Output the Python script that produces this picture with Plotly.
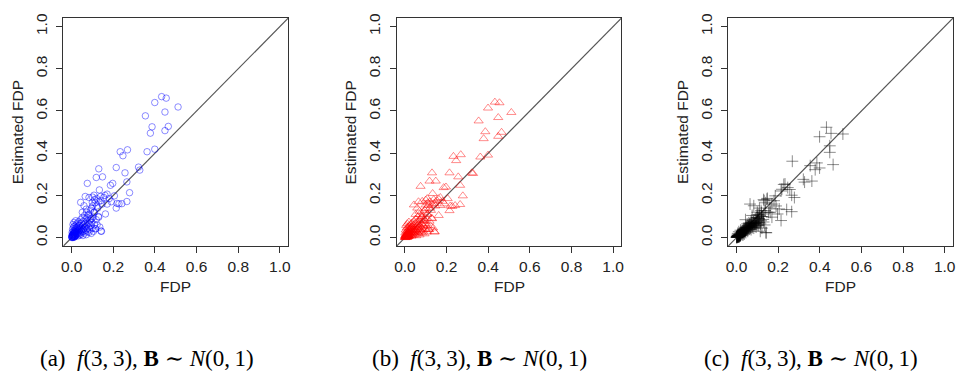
import plotly.graph_objects as go

# ---------------- data ----------------
# shared true FDP values (x) and the estimated FDP for each of the three panels
fdp = [
    # outliers
    0.432, 0.454, 0.399, 0.511, 0.448, 0.354, 0.386, 0.464, 0.378, 0.448,
    0.399, 0.362, 0.233, 0.268, 0.246, 0.321, 0.327,
    # middle band
    0.065, 0.083, 0.107, 0.170, 0.205, 0.154, 0.043, 0.059, 0.099, 0.146,
    0.170, 0.218, 0.241, 0.265, 0.214, 0.162, 0.051, 0.083, 0.107, 0.130,
    0.090, 0.133, 0.278, 0.186, 0.197, 0.075, 0.130, 0.148, 0.118, 0.256,
    0.265, 0.214, 0.227, 0.110, 0.180, 0.140, 0.120, 0.095, 0.190, 0.160,
    0.070, 0.100,
    # dense cluster near the origin
    0.000, 0.001, 0.002, 0.003, 0.004, 0.005, 0.006, 0.007, 0.008, 0.009,
    0.010, 0.011, 0.012, 0.013, 0.014, 0.015, 0.016, 0.017, 0.018, 0.019,
    0.020, 0.021, 0.022, 0.023, 0.024, 0.025, 0.026, 0.027, 0.028, 0.029,
    0.030, 0.031, 0.032, 0.033, 0.034, 0.035, 0.036, 0.037, 0.038, 0.039,
    0.040, 0.042, 0.043, 0.044, 0.045, 0.046, 0.048, 0.049, 0.050, 0.051,
    0.052, 0.054, 0.055, 0.056, 0.058, 0.059, 0.060, 0.062, 0.063, 0.064,
    0.066, 0.067, 0.068, 0.070, 0.071, 0.072, 0.074, 0.075, 0.077, 0.078,
    0.080, 0.082, 0.083, 0.085, 0.087, 0.088, 0.090, 0.092, 0.094, 0.095,
    0.097, 0.099, 0.101, 0.103, 0.105, 0.108, 0.110, 0.112, 0.115, 0.118,
    0.120, 0.122, 0.125, 0.128, 0.131, 0.135, 0.138, 0.141, 0.143, 0.114,
    0.001, 0.003, 0.005, 0.007, 0.009, 0.011, 0.013, 0.015, 0.017, 0.019,
    0.002, 0.004, 0.006, 0.008, 0.010, 0.012, 0.014, 0.016, 0.018, 0.020,
]

est_a = [
    0.668, 0.661, 0.640, 0.619, 0.595, 0.577, 0.525, 0.527, 0.495, 0.507,
    0.419, 0.407, 0.407, 0.416, 0.388, 0.334, 0.320,
    0.195, 0.190, 0.201, 0.206, 0.198, 0.190, 0.167, 0.151, 0.167, 0.159,
    0.159, 0.162, 0.161, 0.171, 0.140, 0.112, 0.120, 0.105, 0.120, 0.097,
    0.089, 0.226, 0.213, 0.248, 0.257, 0.257, 0.326, 0.288, 0.285, 0.307,
    0.264, 0.332, 0.160, 0.180, 0.185, 0.175, 0.150, 0.140, 0.170, 0.200,
    0.135, 0.192,
    0.002, 0.010, 0.025, 0.004, 0.040, 0.015, 0.062, 0.008, 0.030, 0.050,
    0.018, 0.072, 0.005, 0.035, 0.022, 0.055, 0.012, 0.045, 0.028, 0.080,
    0.010, 0.038, 0.060, 0.020, 0.048, 0.032, 0.068, 0.015, 0.042, 0.025,
    0.052, 0.008, 0.036, 0.075, 0.020, 0.058, 0.030, 0.045, 0.012, 0.065,
    0.038, 0.024, 0.085, 0.050, 0.016, 0.034, 0.070, 0.042, 0.028, 0.095,
    0.056, 0.010, 0.040, 0.078, 0.030, 0.062, 0.046, 0.105, 0.022, 0.068,
    0.052, 0.035, 0.088, 0.014, 0.120, 0.060, 0.042, 0.095, 0.030, 0.072,
    0.050, 0.110, 0.025, 0.065, 0.082, 0.040, 0.130, 0.058, 0.020, 0.090,
    0.072, 0.045, 0.150, 0.098, 0.030, 0.120, 0.062, 0.165, 0.042, 0.085,
    0.185, 0.061, 0.140, 0.100, 0.172, 0.050, 0.195, 0.031, 0.030, 0.042,
    0.003, 0.012, 0.006, 0.020, 0.003, 0.014, 0.008, 0.026, 0.006, 0.018,
    0.000, 0.002, 0.010, 0.016, 0.001, 0.022, 0.004, 0.030, 0.010, 0.024,
]

est_b = [
    0.642, 0.639, 0.614, 0.593, 0.569, 0.553, 0.502, 0.499, 0.469, 0.480,
    0.391, 0.382, 0.385, 0.393, 0.365, 0.307, 0.304,
    0.170, 0.172, 0.185, 0.190, 0.185, 0.175, 0.155, 0.140, 0.155, 0.150,
    0.152, 0.150, 0.152, 0.157, 0.128, 0.105, 0.110, 0.098, 0.112, 0.090,
    0.082, 0.209, 0.198, 0.237, 0.240, 0.243, 0.307, 0.268, 0.268, 0.288,
    0.248, 0.307, 0.148, 0.165, 0.172, 0.162, 0.140, 0.130, 0.160, 0.185,
    0.125, 0.178,
    0.001, 0.008, 0.022, 0.003, 0.036, 0.013, 0.058, 0.007, 0.027, 0.046,
    0.016, 0.066, 0.004, 0.032, 0.020, 0.050, 0.011, 0.041, 0.025, 0.074,
    0.009, 0.035, 0.055, 0.018, 0.044, 0.029, 0.062, 0.013, 0.039, 0.023,
    0.048, 0.007, 0.033, 0.069, 0.018, 0.053, 0.027, 0.041, 0.011, 0.060,
    0.035, 0.022, 0.078, 0.046, 0.014, 0.031, 0.064, 0.038, 0.025, 0.088,
    0.051, 0.009, 0.036, 0.072, 0.027, 0.057, 0.042, 0.097, 0.020, 0.062,
    0.048, 0.032, 0.081, 0.013, 0.110, 0.055, 0.038, 0.088, 0.027, 0.066,
    0.046, 0.101, 0.023, 0.060, 0.075, 0.036, 0.120, 0.053, 0.018, 0.083,
    0.066, 0.041, 0.138, 0.090, 0.027, 0.110, 0.057, 0.152, 0.038, 0.078,
    0.170, 0.056, 0.129, 0.092, 0.158, 0.046, 0.180, 0.028, 0.027, 0.039,
    0.003, 0.011, 0.005, 0.018, 0.003, 0.013, 0.007, 0.023, 0.005, 0.016,
    0.000, 0.002, 0.009, 0.014, 0.001, 0.020, 0.004, 0.027, 0.009, 0.022,
]

est_c = [
    0.523, 0.494, 0.478, 0.491, 0.435, 0.341, 0.354, 0.346, 0.322, 0.404,
    0.330, 0.268, 0.254, 0.362, 0.237, 0.276, 0.263,
    0.159, 0.151, 0.110, 0.159, 0.136, 0.120, 0.085, 0.070, 0.108, 0.182,
    0.097, 0.229, 0.133, 0.123, 0.081, 0.120, 0.065, 0.075, 0.090, 0.074,
    0.068, 0.175, 0.190, 0.198, 0.112, 0.105, 0.180, 0.186, 0.128, 0.228,
    0.201, 0.221, 0.252, 0.140, 0.175, 0.165, 0.100, 0.095, 0.150, 0.140,
    0.080, 0.120,
    0.001, 0.004, 0.006, 0.002, 0.012, 0.008, 0.020, 0.005, 0.010, 0.015,
    0.009, 0.028, 0.004, 0.014, 0.012, 0.018, 0.010, 0.022, 0.016, 0.035,
    0.013, 0.020, 0.025, 0.018, 0.024, 0.021, 0.030, 0.015, 0.027, 0.022,
    0.032, 0.012, 0.026, 0.040, 0.020, 0.034, 0.030, 0.036, 0.018, 0.042,
    0.033, 0.028, 0.048, 0.040, 0.024, 0.037, 0.050, 0.044, 0.035, 0.055,
    0.046, 0.030, 0.048, 0.058, 0.042, 0.052, 0.050, 0.066, 0.040, 0.060,
    0.054, 0.046, 0.064, 0.038, 0.072, 0.058, 0.052, 0.068, 0.048, 0.062,
    0.056, 0.078, 0.045, 0.064, 0.070, 0.055, 0.088, 0.066, 0.050, 0.075,
    0.070, 0.060, 0.095, 0.082, 0.058, 0.090, 0.072, 0.105, 0.065, 0.080,
    0.118, 0.045, 0.100, 0.086, 0.112, 0.060, 0.128, 0.024, 0.023, 0.030,
    0.002, 0.006, 0.004, 0.010, 0.004, 0.008, 0.006, 0.012, 0.008, 0.011,
    0.001, 0.002, 0.005, 0.009, 0.003, 0.012, 0.006, 0.014, 0.009, 0.013,
]

tick_vals = [0.0, 0.2, 0.4, 0.6, 0.8, 1.0]
tick_text = ["0.0", "0.2", "0.4", "0.6", "0.8", "1.0"]
axis_range = [-0.04, 1.04]
captions = ["(a)", "(b)", "(c)"]

# ---------------- styling / layout ----------------
W, H = 958, 378
box_left_px = [61.7, 396.7, 730.0]
box_w_px = 226.0
box_top_px, box_bot_px = 13.3, 244.3
caption_left_px = [36, 370, 704]

panels = [
    dict(y=est_a, symbol="circle-open", color="rgba(0,0,255,0.45)", size=6.5),
    dict(y=est_b, symbol="triangle-up-open", color="rgba(255,0,0,0.45)", size=8),
    dict(y=est_c, symbol="cross-thin-open", color="rgba(0,0,0,0.45)", size=8.5),
]

font_family = "Liberation Sans, Arial, sans-serif"
fig = go.Figure()
annotations = []
layout = dict(
    width=W, height=H, margin=dict(l=0, r=0, t=0, b=0),
    paper_bgcolor="white", plot_bgcolor="white", showlegend=False,
    font=dict(family=font_family, size=15.5, color="#222"),
)

ydom = [1 - box_bot_px / H, 1 - box_top_px / H]
for i, p in enumerate(panels):
    sfx = "" if i == 0 else str(i + 1)
    xa, ya = "x" + sfx, "y" + sfx
    x0 = box_left_px[i] / W
    x1 = (box_left_px[i] + box_w_px) / W
    common = dict(
        range=axis_range, tickvals=tick_vals, ticktext=tick_text,
        showline=True, linecolor="#333", linewidth=1, mirror=True,
        ticks="outside", ticklen=6, tickcolor="#333", tickwidth=1,
        showgrid=False, zeroline=False,
        tickfont=dict(family=font_family, size=15.5, color="#222"),
    )
    layout["xaxis" + sfx] = dict(domain=[x0, x1], anchor=ya, **common)
    layout["yaxis" + sfx] = dict(domain=ydom, anchor=xa, tickangle=-90,
                                 ticklabelstandoff=3, **common)

    # identity line across the whole plotting region
    fig.add_trace(go.Scatter(
        x=axis_range, y=axis_range, mode="lines", xaxis=xa, yaxis=ya,
        line=dict(color="#555555", width=1.2), hoverinfo="skip"))
    fig.add_trace(go.Scatter(
        x=fdp, y=p["y"], mode="markers", xaxis=xa, yaxis=ya,
        marker=dict(symbol=p["symbol"], size=p["size"], color=p["color"],
                    line=dict(color=p["color"], width=1))))

    cx = (box_left_px[i] + box_w_px / 2) / W
    annotations.append(dict(
        text="FDP", xref="paper", yref="paper", x=cx, y=1 - 285.0 / H,
        xanchor="center", yanchor="middle", showarrow=False,
        font=dict(family=font_family, size=15.5, color="#222")))
    annotations.append(dict(
        text="Estimated FDP", xref="paper", yref="paper",
        x=(box_left_px[i] - 46.5) / W, y=sum(ydom) / 2, textangle=-90,
        xanchor="center", yanchor="middle", showarrow=False,
        font=dict(family=font_family, size=15.5, color="#222")))
    annotations.append(dict(
        text=captions[i] + "\u2002<i>f</i>(3,\u20093), <b>B</b>\u2005\u223c\u2005<i>N</i>(0,\u20091)",
        xref="paper", yref="paper", x=caption_left_px[i] / W, y=1 - 358 / H,
        xanchor="left", yanchor="middle", showarrow=False,
        font=dict(family="Liberation Serif, DejaVu Serif, serif", size=23,
                  color="black")))

layout["annotations"] = annotations
fig.update_layout(**layout)
fig.write_html("out.html")
